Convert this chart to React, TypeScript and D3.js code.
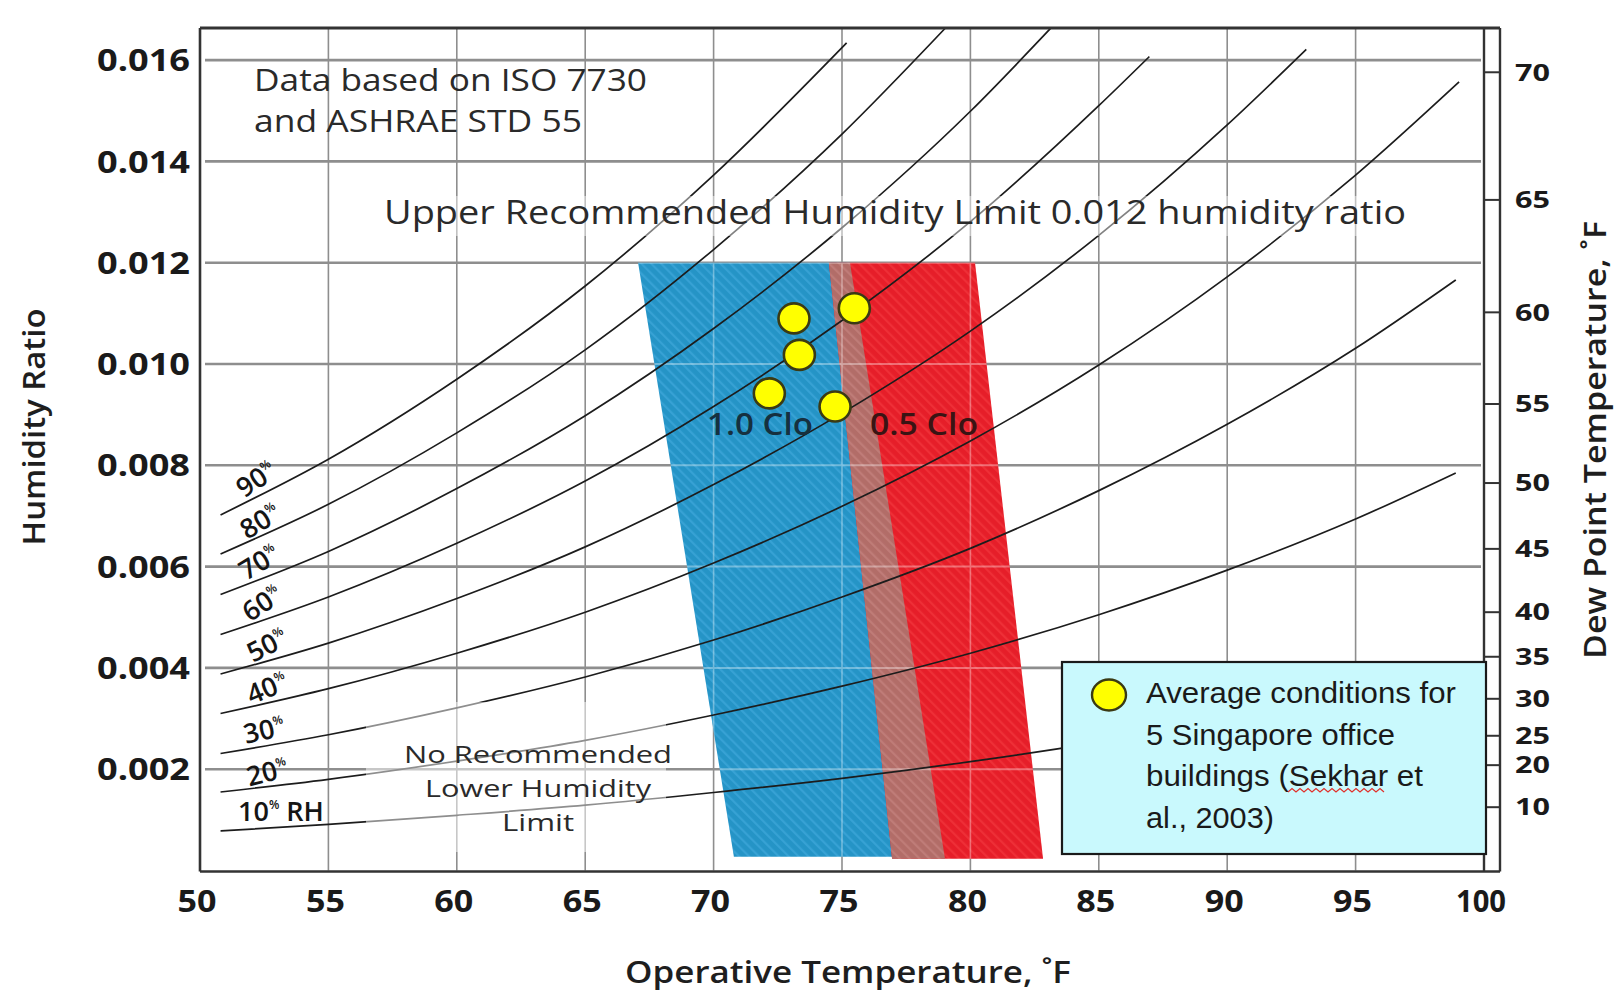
import React from "react";
import * as d3 from "d3";

// ---------- data ----------
const tempTicks = [50, 55, 60, 65, 70, 75, 80, 85, 90, 95, 100];
const gridTemps = [55, 60, 65, 70, 75, 80, 85, 90, 95];
const ratioTicks = [0.002, 0.004, 0.006, 0.008, 0.01, 0.012, 0.014, 0.016];
const ratioTickLabels = ["0.002", "0.004", "0.006", "0.008", "0.010", "0.012", "0.014", "0.016"];
const dewPointTicks = [70, 65, 60, 55, 50, 45, 40, 35, 30, 25, 20, 10];
const dewPointRatio = [0.01576, 0.01324, 0.01102, 0.00921, 0.00765, 0.00635, 0.0051, 0.00422, 0.00339, 0.00266, 0.00208, 0.00125];

const rh90Temp = [50.8, 55, 60, 65, 70, 75.18];
const rh90Ratio = [0.00702, 0.00812, 0.0097, 0.01154, 0.01373, 0.01634];
const rh80Temp = [50.8, 55, 60, 65, 70, 75, 79.02];
const rh80Ratio = [0.00625, 0.00723, 0.00864, 0.01028, 0.01226, 0.01454, 0.01663];
const rh70Temp = [50.8, 55, 60, 65, 70, 75, 80, 83.13];
const rh70Ratio = [0.00545, 0.0063, 0.00754, 0.00898, 0.0107, 0.01269, 0.01499, 0.01663];
const rh60Temp = [50.8, 55, 60, 65, 70, 75, 80, 85, 86.97];
const rh60Ratio = [0.00466, 0.0054, 0.00646, 0.00769, 0.00916, 0.01086, 0.01281, 0.0151, 0.01607];
const rh50Temp = [50.8, 55, 60, 65, 70, 75, 80, 85, 90, 93.08];
const rh50Ratio = [0.00388, 0.00449, 0.00537, 0.00639, 0.00762, 0.00903, 0.01065, 0.01254, 0.01472, 0.01621];
const rh40Temp = [50.8, 55, 60, 65, 70, 75, 80, 85, 90, 95, 99.03];
const rh40Ratio = [0.0031, 0.00359, 0.00429, 0.0051, 0.00607, 0.00719, 0.00848, 0.00998, 0.01172, 0.01373, 0.01557];
const rh30Temp = [50.8, 55, 60, 65, 70, 75, 80, 85, 90, 95, 98.9];
const rh30Ratio = [0.00231, 0.00268, 0.00321, 0.00382, 0.00455, 0.0054, 0.00636, 0.0075, 0.00881, 0.01031, 0.01166];
const rh20Temp = [50.8, 55, 60, 65, 70, 75, 80, 85, 90, 95, 98.9];
const rh20Ratio = [0.00155, 0.0018, 0.00216, 0.00257, 0.00307, 0.00364, 0.00429, 0.00505, 0.00593, 0.00694, 0.00785];
const rh10Temp = [50.8, 55, 60, 65, 70, 75, 80, 85, 90, 95, 99];
const rh10Ratio = [0.00078, 0.00091, 0.00109, 0.00129, 0.00154, 0.00182, 0.00215, 0.00253, 0.00297, 0.00347, 0.00392];

const rhLabels = ["90", "80", "70", "60", "50", "40", "30", "20"];

const clo10Temp = [67.06, 75.31, 79.01, 70.79];
const clo10Ratio = [0.012, 0.012, 0.00027, 0.00027];
const clo05Temp = [74.49, 80.18, 82.83, 76.95];
const clo05Ratio = [0.012, 0.012, 0.00023, 0.00023];

const officeTemp = [73.13, 75.48, 73.34, 72.17, 74.73];
const officeRatio = [0.0109, 0.0111, 0.01018, 0.00942, 0.00916];

const legendLines = ["Average conditions for", "5 Singapore office", "buildings (Sekhar et", "al., 2003)"];

// ---------- layout ----------
const X_LEFT = 200, X_RIGHT = 1484, Y_BOTTOM = 870.5, Y_TOP = 28, AXIS2 = 1500;
const FONT = "'Open Sans', 'Noto Sans', sans-serif";

export default function App() {
  const x = d3.scaleLinear().domain([50, 100]).range([X_LEFT, X_RIGHT]);
  const y = d3.scaleLinear().domain([0, 0.016634]).range([Y_BOTTOM, Y_TOP]);
  const line = d3
    .line<[number, number]>()
    .x((d) => x(d[0]))
    .y((d) => y(d[1]))
    .curve(d3.curveMonotoneX);

  const curves = [
    [rh90Temp, rh90Ratio],
    [rh80Temp, rh80Ratio],
    [rh70Temp, rh70Ratio],
    [rh60Temp, rh60Ratio],
    [rh50Temp, rh50Ratio],
    [rh40Temp, rh40Ratio],
    [rh30Temp, rh30Ratio],
    [rh20Temp, rh20Ratio],
    [rh10Temp, rh10Ratio],
  ].map(([ts, ws]) => line(ts.map((t, i) => [t, ws[i]] as [number, number])) as string);

  const poly = (ts: number[], ws: number[]) => ts.map((t, i) => `${x(t)},${y(ws[i])}`).join(" ");
  const overlapT = [clo05Temp[0], clo10Temp[1], clo10Temp[2], clo05Temp[3]];
  const overlapW = [clo05Ratio[0], clo10Ratio[1], clo05Ratio[2], clo05Ratio[3]];

  const rhLabelPos = [
    { cx: 256, cy: 479, a: -34 },
    { cx: 260, cy: 521, a: -31 },
    { cx: 259, cy: 562, a: -31 },
    { cx: 262, cy: 603, a: -33 },
    { cx: 267, cy: 645, a: -27 },
    { cx: 267, cy: 688, a: -22 },
    { cx: 264, cy: 730, a: -13 },
    { cx: 267, cy: 772, a: -14 },
  ];

  // squiggle under "Sekhar"
  let squiggle = "M1288,792";
  for (let i = 1; i <= 24; i++) squiggle += ` L${1288 + i * 4},${i % 2 ? 788.5 : 792}`;

  const gridLines = (stroke: string, hw: number, vw: number, op = 1) => (
    <g opacity={op}>
      {gridTemps.map((t) => (
        <line key={"v" + t} x1={x(t)} x2={x(t)} y1={Y_TOP} y2={Y_BOTTOM} stroke={stroke} strokeWidth={vw} />
      ))}
      {ratioTicks.map((r) => (
        <line key={"h" + r} x1={X_LEFT + 5} x2={X_RIGHT - 3} y1={y(r)} y2={y(r)} stroke={stroke} strokeWidth={hw} />
      ))}
    </g>
  );

  return (
    <svg
      width={1615}
      height={1000}
      style={{ position: "absolute", left: 0, top: 0, background: "#fff" }}
      fontFamily={FONT}
    >
      <defs>
        <pattern id="blueStripe" patternUnits="userSpaceOnUse" width="7" height="7" patternTransform="rotate(-45)">
          <rect width="7" height="7" fill="#2594c7" />
          <rect width="2.2" height="7" fill="#38a2d4" />
        </pattern>
        <pattern id="redStripe" patternUnits="userSpaceOnUse" width="7" height="7" patternTransform="rotate(-45)">
          <rect width="7" height="7" fill="#e61f2a" />
          <rect width="2.2" height="7" fill="#ee3038" />
        </pattern>
        <pattern id="brownStripe" patternUnits="userSpaceOnUse" width="7" height="7" patternTransform="rotate(-45)">
          <rect width="7" height="7" fill="#b36d69" />
          <rect width="2.2" height="7" fill="#bf7d78" />
        </pattern>
        <clipPath id="zoneClip">
          <polygon points={poly(clo10Temp, clo10Ratio)} />
          <polygon points={poly(clo05Temp, clo05Ratio)} />
        </clipPath>
      </defs>

      <rect width={1615} height={1000} fill="#fff" />

      {gridLines("#8e8e8e", 2.6, 1.6)}

      {/* comfort zones */}
      <polygon points={poly(clo10Temp, clo10Ratio)} fill="url(#blueStripe)" />
      <polygon points={poly(clo05Temp, clo05Ratio)} fill="url(#redStripe)" />
      <polygon points={poly(overlapT, overlapW)} fill="url(#brownStripe)" />
      <g clipPath="url(#zoneClip)">{gridLines("#ffffff", 2, 1.6, 0.35)}</g>

      {/* RH curves */}
      {curves.map((d, i) => (
        <path key={i} d={d} fill="none" stroke="#1c1c1c" strokeWidth={1.7} />
      ))}

      {/* faded areas behind annotations */}
      <rect x={366} y={702} width={300} height={150} fill="#fff" opacity={0.5} />
      <rect x={380} y={196} width={1030} height={40} fill="#fff" opacity={0.45} />

      {/* frame and right axis */}
      <g stroke="#333" fill="none">
        <line x1={X_LEFT} x2={X_LEFT} y1={Y_TOP} y2={Y_BOTTOM + 1} strokeWidth={2.6} />
        <line x1={X_LEFT} x2={AXIS2} y1={Y_BOTTOM + 1} y2={Y_BOTTOM + 1} strokeWidth={2.6} />
        <line x1={X_LEFT} x2={AXIS2} y1={Y_TOP} y2={Y_TOP} strokeWidth={3} />
        <line x1={X_RIGHT} x2={X_RIGHT} y1={Y_TOP} y2={Y_BOTTOM + 1} strokeWidth={2.4} />
        <line x1={AXIS2} x2={AXIS2} y1={Y_TOP} y2={Y_BOTTOM + 1} strokeWidth={2.4} />
        {dewPointRatio.map((r, i) => (
          <line key={i} x1={X_RIGHT} x2={AXIS2} y1={y(r)} y2={y(r)} strokeWidth={2} />
        ))}
      </g>

      {/* tick labels */}
      <g fill="#1a1a1a" fontWeight={700}>
        {ratioTicks.map((r, i) => (
          <text key={i} x={190} y={y(r)} dy="0.36em" textAnchor="end" fontSize={31} textLength={93} lengthAdjust="spacingAndGlyphs">
            {ratioTickLabels[i]}
          </text>
        ))}
        {tempTicks.map((t) => (
          <text key={t} x={x(t) - 3} y={901} dy="0.36em" textAnchor="middle" fontSize={31}
            textLength={t === 100 ? 50 : 39} lengthAdjust="spacingAndGlyphs">
            {t}
          </text>
        ))}
        {dewPointTicks.map((d, i) => (
          <text key={d} x={1515} y={y(dewPointRatio[i])} dy="0.36em" fontSize={23} textLength={35} lengthAdjust="spacingAndGlyphs">
            {d}
          </text>
        ))}
      </g>

      {/* axis titles */}
      <g fill="#1e1e1e" fontWeight={600}>
        <text transform="translate(45,427) rotate(-90)" textAnchor="middle" fontSize={30} textLength={237} lengthAdjust="spacingAndGlyphs">
          Humidity Ratio
        </text>
        <text x={848} y={983} textAnchor="middle" fontSize={31} textLength={446} lengthAdjust="spacingAndGlyphs">
          Operative Temperature, ˚F
        </text>
        <text transform="translate(1606,440) rotate(-90)" textAnchor="middle" fontSize={30} textLength={438} lengthAdjust="spacingAndGlyphs">
          Dew Point Temperature, ˚F
        </text>
      </g>

      {/* annotations */}
      <g fill="#2a2a2a" fontSize={31}>
        <text x={254} y={91} textLength={393} lengthAdjust="spacingAndGlyphs">Data based on ISO 7730</text>
        <text x={254} y={132} textLength={328} lengthAdjust="spacingAndGlyphs">and ASHRAE STD 55</text>
        <text x={384} y={224} fontSize={32} textLength={1022} lengthAdjust="spacingAndGlyphs">
          Upper Recommended Humidity Limit 0.012 humidity ratio
        </text>
      </g>
      <g fill="#2a2a2a" fontSize={24.5} textAnchor="middle">
        <text x={538} y={763} textLength={268} lengthAdjust="spacingAndGlyphs">No Recommended</text>
        <text x={538} y={797} textLength={226} lengthAdjust="spacingAndGlyphs">Lower Humidity</text>
        <text x={538} y={831} textLength={72} lengthAdjust="spacingAndGlyphs">Limit</text>
      </g>

      {/* RH labels */}
      <g fill="#151515" fontWeight={600} fontSize={27}>
        {rhLabels.map((l, i) => (
          <text key={l} transform={`translate(${rhLabelPos[i].cx},${rhLabelPos[i].cy}) rotate(${rhLabelPos[i].a})`} textAnchor="middle" dy="0.36em">
            {l}
            <tspan fontSize={12} dy={-12}>%</tspan>
          </text>
        ))}
        <text x={238} y={821}>
          10<tspan fontSize={12} dy={-12}>%</tspan>
          <tspan dy={12}> RH</tspan>
        </text>
      </g>

      {/* clo labels */}
      <text x={707} y={435} fontSize={31} fontWeight={600} fill="#16303f" textLength={106} lengthAdjust="spacingAndGlyphs">1.0 Clo</text>
      <text x={870} y={435} fontSize={31} fontWeight={600} fill="#3a1414" textLength={108} lengthAdjust="spacingAndGlyphs">0.5 Clo</text>

      {/* office points */}
      {officeTemp.map((t, i) => (
        <ellipse key={i} cx={x(t)} cy={y(officeRatio[i])} rx={15.5} ry={15} fill="#ffff00" stroke="#3a3a14" strokeWidth={2.6} />
      ))}

      {/* legend */}
      <rect x={1062} y={662} width={424} height={192} fill="#c9f9fd" stroke="#1a1a1a" strokeWidth={2.2} />
      <ellipse cx={1109} cy={695} rx={17} ry={15.5} fill="#ffff00" stroke="#3a3a14" strokeWidth={2.4} />
      <g fill="#1a1a1a" fontFamily="'Liberation Sans', Arial, sans-serif" fontSize={29}>
        {legendLines.map((s, i) => (
          <text key={i} x={1146} y={703 + i * 41.5} textLength={[310, 249, 277, 128][i]} lengthAdjust="spacingAndGlyphs">
            {s}
          </text>
        ))}
      </g>
      <path d={squiggle} fill="none" stroke="#e0302a" strokeWidth={1.2} />
    </svg>
  );
}
